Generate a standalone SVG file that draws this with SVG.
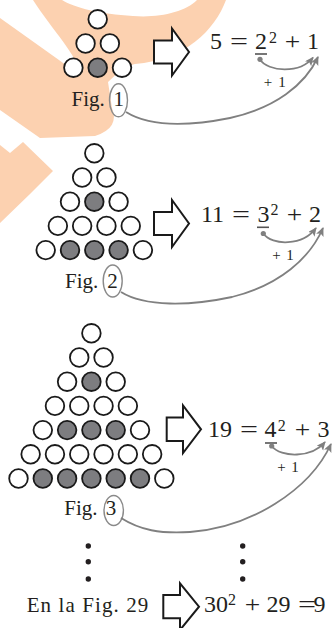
<svg xmlns="http://www.w3.org/2000/svg" width="334" height="628" viewBox="0 0 334 628">
<style>
.bg{fill:#fcd1b0;stroke:none}
.c{fill:#fff;stroke:#1a1a1a;stroke-width:1.8}
.f{fill:#7d7d80;stroke:#1a1a1a;stroke-width:1.8}
.t{font-family:"Liberation Serif","DejaVu Serif",serif;fill:#231f20}
.eq{font-size:24px;text-anchor:middle}
.sup{font-size:16px;text-anchor:middle}
.lab{font-size:21px}
.pl{font-size:15px;text-anchor:middle}
.ha{fill:#fff;stroke:#1a1a1a;stroke-width:2;stroke-linejoin:miter}
.el{fill:none;stroke:#8a8a8a;stroke-width:1.4}
.cn{fill:none;stroke:#808080;stroke-width:1.8}
.bar{stroke:#555;stroke-width:1.6}
.dt{fill:#808080}
.vd{fill:#231f20}
</style>
<defs>
<marker id="ah" markerUnits="userSpaceOnUse" markerWidth="10" markerHeight="10" refX="8" refY="4" orient="auto">
<path d="M0,0 L9,4 L0,8 L2,4 Z" fill="#808080"/>
</marker>
</defs>
<g id="watermark">
<path class="bg" d="M0,18 L80,75 C78,55 52,30 33,0 L62,0 C75,8 100,14 133,16 C160,18 185,12 197,0 L226,0 C215,30 185,60 135,64 L124,67 L108,82 L112,108 Q120,128 95,136 L40,138 L0,110 Z"/>
<path class="bg" d="M0,145 L10,153 L23,142 L53,171 L30,194 L0,223 Z"/>
</g>
<g id="fig1">
<circle class="c" cx="97.7" cy="19.3" r="9.3"/>
<circle class="c" cx="85.55" cy="43.5" r="9.3"/>
<circle class="c" cx="109.85" cy="43.5" r="9.3"/>
<circle class="c" cx="73.4" cy="67.7" r="9.3"/>
<circle class="f" cx="97.7" cy="67.7" r="9.3"/>
<circle class="c" cx="122" cy="67.7" r="9.3"/>
<text class="t lab" x="71.5" y="106">Fig.</text>
<ellipse class="el" cx="118.5" cy="100.3" rx="9" ry="16.5"/>
<text class="t lab" x="118.7" y="106" text-anchor="middle">1</text>
</g>
<g id="arrow1">
<polygon class="ha" points="154,40.5 172,40.5 172,28.5 189,52 172,75.5 172,63.5 154,63.5"/>
</g>
<g id="eq1">
<text class="t eq" x="216" y="49">5</text>
<text class="t eq" x="239" y="49" textLength="18" lengthAdjust="spacingAndGlyphs">=</text>
<text class="t eq" x="261" y="49">2</text>
<text class="t sup" x="273" y="42.5">2</text>
<text class="t eq" x="292.5" y="49" textLength="15.5" lengthAdjust="spacingAndGlyphs">+</text>
<text class="t eq" x="313" y="49">1</text>
<line class="bar" x1="255" y1="54" x2="267" y2="54"/>
<text class="t pl" x="268" y="87">+</text>
<text class="t pl" x="282" y="87">1</text>
</g>
<g id="fig2">
<circle class="c" cx="94.3" cy="153.3" r="9.3"/>
<circle class="c" cx="82.15" cy="177.5" r="9.3"/>
<circle class="c" cx="106.45" cy="177.5" r="9.3"/>
<circle class="c" cx="70" cy="201.7" r="9.3"/>
<circle class="f" cx="94.3" cy="201.7" r="9.3"/>
<circle class="c" cx="118.6" cy="201.7" r="9.3"/>
<circle class="c" cx="57.85" cy="225.9" r="9.3"/>
<circle class="c" cx="82.15" cy="225.9" r="9.3"/>
<circle class="c" cx="106.45" cy="225.9" r="9.3"/>
<circle class="c" cx="130.75" cy="225.9" r="9.3"/>
<circle class="c" cx="45.7" cy="250.1" r="9.3"/>
<circle class="f" cx="70" cy="250.1" r="9.3"/>
<circle class="f" cx="94.3" cy="250.1" r="9.3"/>
<circle class="f" cx="118.6" cy="250.1" r="9.3"/>
<circle class="c" cx="142.9" cy="250.1" r="9.3"/>
<text class="t lab" x="65" y="287.7">Fig.</text>
<ellipse class="el" cx="112.7" cy="281" rx="9.5" ry="16"/>
<text class="t lab" x="112.5" y="287.7" text-anchor="middle">2</text>
</g>
<g id="arrow2">
<polygon class="ha" points="154,212 172,212 172,200 189,223.5 172,247 172,235 154,235"/>
</g>
<g id="eq2">
<text class="t eq" x="212.5" y="221.7">11</text>
<text class="t eq" x="241" y="221.7" textLength="18" lengthAdjust="spacingAndGlyphs">=</text>
<text class="t eq" x="263.5" y="221.7">3</text>
<text class="t sup" x="274.5" y="215">2</text>
<text class="t eq" x="294.5" y="221.7" textLength="15.5" lengthAdjust="spacingAndGlyphs">+</text>
<text class="t eq" x="315" y="221.7">2</text>
<line class="bar" x1="257" y1="227.3" x2="269" y2="227.3"/>
<text class="t pl" x="276.5" y="260">+</text>
<text class="t pl" x="290" y="260">1</text>
</g>
<g id="fig3">
<circle class="c" cx="91.4" cy="333.3" r="9.3"/>
<circle class="c" cx="79.25" cy="357.5" r="9.3"/>
<circle class="c" cx="103.55" cy="357.5" r="9.3"/>
<circle class="c" cx="67.1" cy="381.7" r="9.3"/>
<circle class="f" cx="91.4" cy="381.7" r="9.3"/>
<circle class="c" cx="115.7" cy="381.7" r="9.3"/>
<circle class="c" cx="54.95" cy="405.9" r="9.3"/>
<circle class="c" cx="79.25" cy="405.9" r="9.3"/>
<circle class="c" cx="103.55" cy="405.9" r="9.3"/>
<circle class="c" cx="127.85" cy="405.9" r="9.3"/>
<circle class="c" cx="42.8" cy="430.1" r="9.3"/>
<circle class="f" cx="67.1" cy="430.1" r="9.3"/>
<circle class="f" cx="91.4" cy="430.1" r="9.3"/>
<circle class="f" cx="115.7" cy="430.1" r="9.3"/>
<circle class="c" cx="140" cy="430.1" r="9.3"/>
<circle class="c" cx="30.65" cy="454.3" r="9.3"/>
<circle class="c" cx="54.95" cy="454.3" r="9.3"/>
<circle class="c" cx="79.25" cy="454.3" r="9.3"/>
<circle class="c" cx="103.55" cy="454.3" r="9.3"/>
<circle class="c" cx="127.85" cy="454.3" r="9.3"/>
<circle class="c" cx="152.15" cy="454.3" r="9.3"/>
<circle class="c" cx="18.5" cy="478.5" r="9.3"/>
<circle class="f" cx="42.8" cy="478.5" r="9.3"/>
<circle class="f" cx="67.1" cy="478.5" r="9.3"/>
<circle class="f" cx="91.4" cy="478.5" r="9.3"/>
<circle class="f" cx="115.7" cy="478.5" r="9.3"/>
<circle class="f" cx="140" cy="478.5" r="9.3"/>
<circle class="c" cx="164.3" cy="478.5" r="9.3"/>
<text class="t lab" x="64.3" y="515">Fig.</text>
<ellipse class="el" cx="113.7" cy="510.5" rx="9.7" ry="15"/>
<text class="t lab" x="111" y="515" text-anchor="middle">3</text>
</g>
<g id="arrow3">
<polygon class="ha" points="166.7,417.5 183,417.5 183,405.5 201,429.3 183,453 183,441 166.7,441"/>
</g>
<g id="eq3">
<text class="t eq" x="220" y="437.3">19</text>
<text class="t eq" x="249" y="437.3" textLength="18" lengthAdjust="spacingAndGlyphs">=</text>
<text class="t eq" x="270.5" y="437.3">4</text>
<text class="t sup" x="281.8" y="430.5">2</text>
<text class="t eq" x="302.5" y="437.3" textLength="15.5" lengthAdjust="spacingAndGlyphs">+</text>
<text class="t eq" x="323.5" y="437.3">3</text>
<line class="bar" x1="265" y1="443" x2="277" y2="443"/>
<text class="t pl" x="281.5" y="471.7">+</text>
<text class="t pl" x="295" y="471.7">1</text>
</g>
<g id="ellipsis">
<circle class="vd" cx="88.3" cy="546" r="2.7"/>
<circle class="vd" cx="88.3" cy="561.7" r="2.7"/>
<circle class="vd" cx="88.3" cy="579" r="2.7"/>
<circle class="vd" cx="242.7" cy="546" r="2.7"/>
<circle class="vd" cx="242.7" cy="561.7" r="2.7"/>
<circle class="vd" cx="242.7" cy="579" r="2.7"/>
</g>
<g id="fig29">
<text class="t lab" x="26.7" y="611.7" textLength="121.6" lengthAdjust="spacing">En la Fig. 29</text>
</g>
<g id="arrow29">
<polygon class="ha" points="163.3,595 180,595 180,583.3 199,606.7 180,630 180,618.3 163.3,618.3"/>
</g>
<g id="eq29">
<text class="t eq" x="216" y="611.7">30</text>
<text class="t sup" x="232" y="605">2</text>
<text class="t eq" x="252.5" y="611.7" textLength="15.5" lengthAdjust="spacingAndGlyphs">+</text>
<text class="t eq" x="278.5" y="611.7">29</text>
<text class="t eq" x="307" y="611.7" textLength="18" lengthAdjust="spacingAndGlyphs">=</text>
<text class="t eq" x="319.5" y="611.7" text-anchor="start">9</text>
</g>
<g id="connectors">
<circle class="dt" cx="260" cy="59.3" r="2.6"/>
<path class="cn" d="M260,59.5 C268,72 300,74 313,57.5" marker-end="url(#ah)"/>
<path class="cn" d="M126,112 C150,127 190,126 230,118 C275,108 305,85 318,57" marker-end="url(#ah)"/>
<circle class="dt" cx="263.3" cy="233.5" r="2.6"/>
<path class="cn" d="M263.3,233.5 C272,246 303,246 316,228" marker-end="url(#ah)"/>
<path class="cn" d="M121,292 C145,307 190,306 232,297 C280,285 310,258 323,228" marker-end="url(#ah)"/>
<circle class="dt" cx="271.7" cy="446" r="2.6"/>
<path class="cn" d="M271.7,446 C281,458 312,458 325,442" marker-end="url(#ah)"/>
<path class="cn" d="M121,518 C140,530 160,534 190,532 C250,528 310,490 331,444" marker-end="url(#ah)"/>
</g>
</svg>
